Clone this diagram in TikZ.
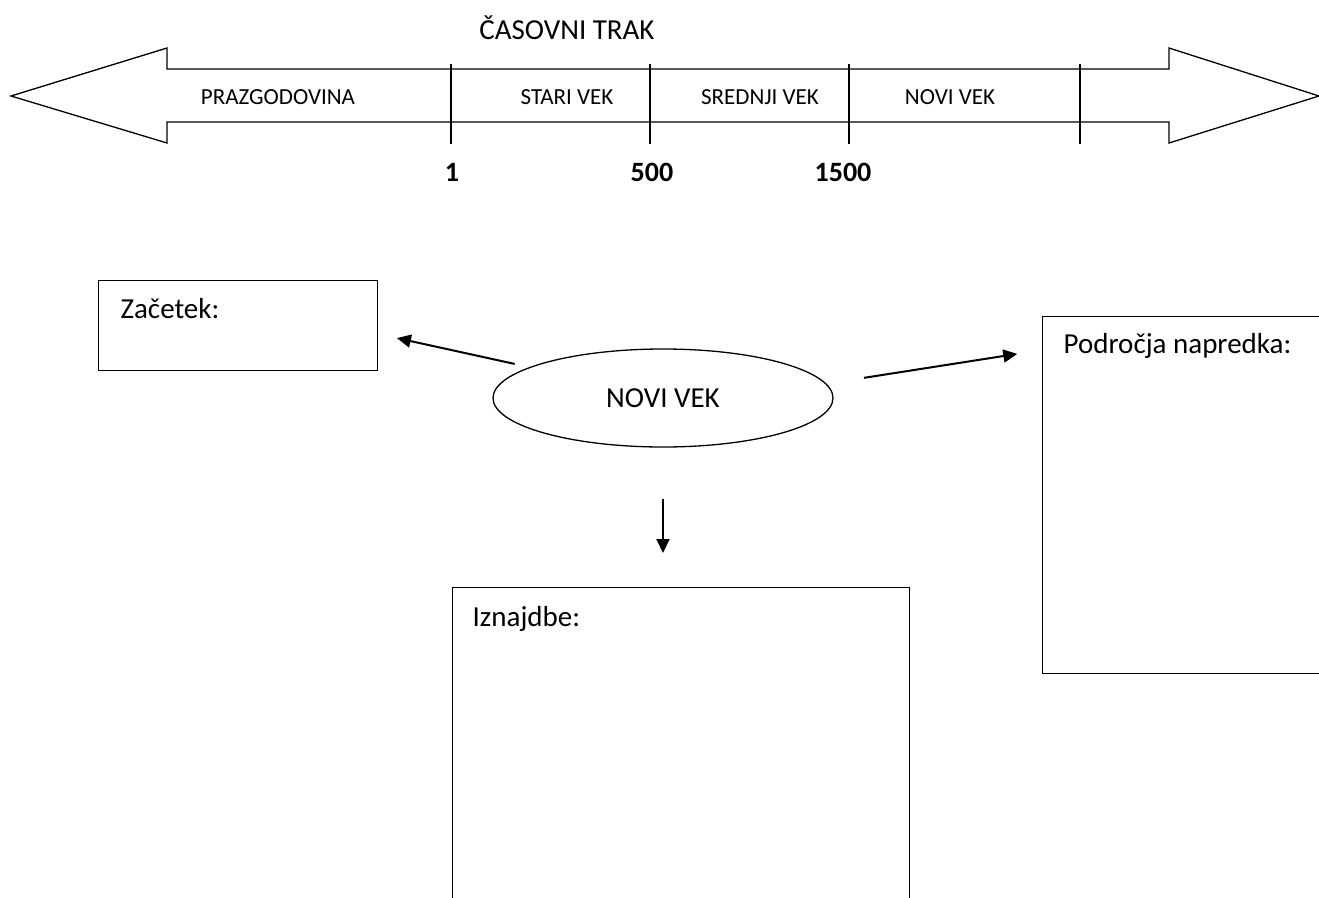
\documentclass[tikz,border=0pt]{standalone}
\usepackage{fontspec}
\setmainfont{Carlito}
\usetikzlibrary{arrows.meta,shapes.geometric}

\begin{document}
\begin{tikzpicture}[
    x=1pt, y=-1pt,  % en piksel = 1pt, y raste navzdol
    line width=1.3pt,
    every node/.style={inner sep=0pt, font=\fontsize{29}{35}\selectfont},
    obdobje/.style={font=\fontsize{23}{28}\selectfont}, % napisi na traku
    letnica/.style={font=\fontsize{28}{34}\selectfont\bfseries},
    okvir/.style={draw, rectangle, anchor=north west},
    naslov/.style={anchor=base west},
    puscica/.style={-{Triangle[length=14pt,width=13pt]}, line width=2pt}
]
\useasboundingbox (0,0) rectangle (1319,897);
% Časovni trak
\node (trak) at (567,28) {ČASOVNI TRAK};
\draw (11,96) -- (167,48) -- (167,69) -- (1169,69) -- (1169,48) -- (1319,96)
    -- (1169,143) -- (1169,122) -- (167,122) -- (167,143) -- cycle;
\foreach \x in {451,650,849,1080}
    \draw (\x,64) -- (\x,144);
\node[obdobje] (prazg) at (278,97) {PRAZGODOVINA};
\node[obdobje] (stari) at (567,97) {STARI VEK};
\node[obdobje] (srednji) at (760,97) {SREDNJI VEK};
\node[obdobje] (novi) at (950,97) {NOVI VEK};
% Letnice
\node[letnica] (l1) at (452,172) {1};
\node[letnica] (l500) at (652,172) {500};
\node[letnica] (l1500) at (843,172) {1500};
% Miselni vzorec
\node[draw, ellipse, minimum width=340, minimum height=98] (nv) at (663,398) {NOVI VEK};
\node[okvir, minimum width=279, minimum height=90] (zac) at (98,280) {};
\node[naslov] (zacT) at (120,318) {Začetek:};
\node[okvir, minimum width=300, minimum height=357] (pod) at (1042,316) {};
\node[naslov] (podT) at (1063,353) {Področja napredka:};
\node[okvir, minimum width=457, minimum height=330] (izn) at (452,587) {};
\node[naslov] (iznT) at (472,626) {Iznajdbe:};
% Puščice
\draw[puscica, shorten <=15pt, shorten >=19pt] (nv.167) -- (zac.east |- 0,334);
\draw[puscica, shorten <=38pt, shorten >=25pt] (nv.5) -- (pod.west |- 0,350);
\draw[puscica, shorten <=51pt, shorten >=34pt] (nv.south) -- (nv.south |- izn.north);
\end{tikzpicture}
\end{document}
